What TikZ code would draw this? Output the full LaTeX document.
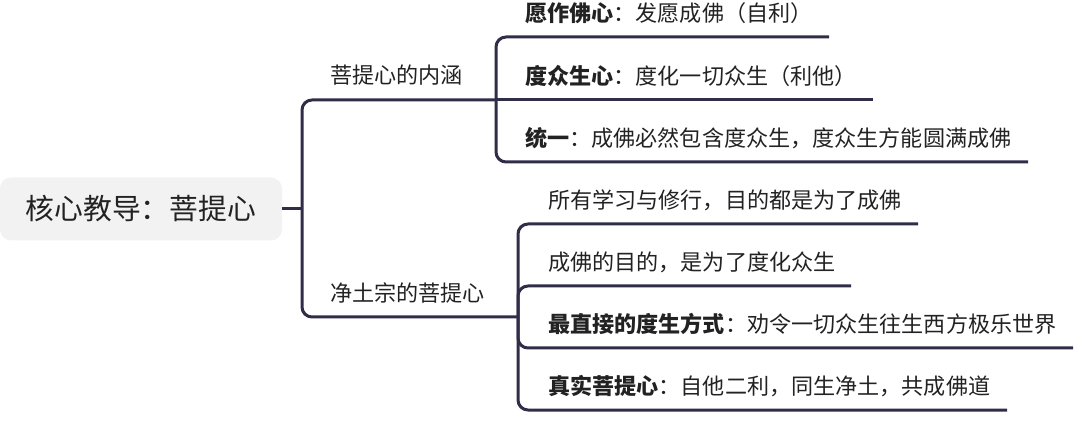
\documentclass[tikz,border=0pt]{standalone}
\usepackage{fontspec}
\setmainfont{Noto Sans CJK SC}
\definecolor{linec}{RGB}{48,45,72}
\definecolor{txt}{RGB}{34,34,34}
\definecolor{rootfill}{RGB}{242,242,242}
\begin{document}
\begin{tikzpicture}[x=1pt,y=-1pt,
  conn/.style={draw=linec,line width=3pt,rounded corners=10pt},
  leaf/.style={anchor=west,inner sep=0pt,text=txt,font=\fontsize{22.1}{26}\selectfont},
  rootbox/.style={fill=rootfill,rounded corners=11pt,minimum width=282pt,minimum height=63pt,inner sep=0pt,text=txt,font=\fontsize{28.8}{32}\selectfont}]
\useasboundingbox (0,0) rectangle (1080,422);
% root
\node[rootbox] (root) at (141,209) {核心教导：菩提心};
\coordinate (t) at (302,209);
% branches
\node[leaf] (b1) at (330,75) {菩提心的内涵};
\node[leaf] (b2) at (330,293) {净土宗的菩提心};
\coordinate (b1j) at (496,100);
\coordinate (b2j) at (518,317);
% leaves of branch 1
\node[leaf] (a1) at (525,13) {\textbf{愿作佛心}：发愿成佛（自利）};
\node[leaf] (a2) at (525,76) {\textbf{度众生心}：度化一切众生（利他）};
\node[leaf] (a3) at (525,138) {\textbf{统一}：成佛必然包含度众生，度众生方能圆满成佛};
\coordinate (a1e) at (829,37);
\coordinate (a2e) at (873,100);
\coordinate (a3e) at (1028,162);
% leaves of branch 2
\node[leaf] (c1) at (548,200) {所有学习与修行，目的都是为了成佛};
\node[leaf] (c2) at (548,262) {成佛的目的，是为了度化众生};
\node[leaf] (c3) at (548,324) {\textbf{最直接的度生方式}：劝令一切众生往生西方极乐世界};
\node[leaf] (c4) at (548,386) {\textbf{真实菩提心}：自他二利，同生净土，共成佛道};
\coordinate (c1e) at (918,224);
\coordinate (c2e) at (851,286);
\coordinate (c3e) at (1073,348);
\coordinate (c4e) at (1007,410);
% connectors
\draw[conn] (root.east) -- (t);
\draw[conn] (t) |- (b1j);
\draw[conn] (t) |- (b2j);
\draw[conn] (b1j) |- (a1e);
\draw[conn] (b1j) -- (a2e);
\draw[conn] (b1j) |- (a3e);
\draw[conn] (b2j) |- (c1e);
\draw[conn] (b2j) |- (c2e);
\draw[conn] (b2j) |- (c3e);
\draw[conn] (b2j) |- (c4e);
\end{tikzpicture}
\end{document}
